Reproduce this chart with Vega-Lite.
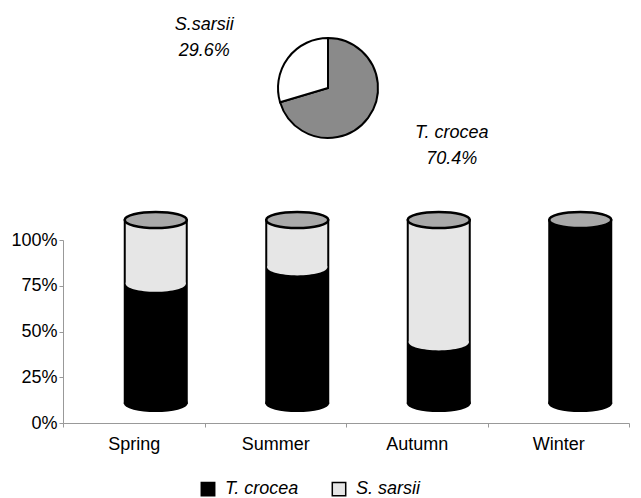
{
  "$schema": "https://vega.github.io/schema/vega-lite/v6.json",
  "background": "white",
  "padding": {"left": 10, "top": 5, "right": 5, "bottom": 5},
  "bounds": "flush",
  "spacing": 69,
  "config": {
    "view": {"stroke": null},
    "font": "Liberation Sans"
  },
  "resolve": {"scale": {"color": "independent"}},
  "vconcat": [
    {
      "width": 530,
      "height": 166,
      "data": {
        "values": [
          {"species": "T. crocea", "share": 70.4, "label": "T. crocea\n70.4%"},
          {"species": "S.sarsii", "share": 29.6, "label": "S.sarsii\n29.6%"}
        ]
      },
      "encoding": {
        "theta": {"field": "share", "type": "quantitative", "stack": true},
        "order": {"field": "species", "sort": "descending"}
      },
      "layer": [
        {
          "mark": {"type": "arc", "outerRadius": 50, "stroke": "black", "strokeWidth": 2},
          "encoding": {
            "color": {
              "field": "species",
              "type": "nominal",
              "scale": {"domain": ["T. crocea", "S.sarsii"], "range": ["#8a8a8a", "#ffffff"]},
              "legend": null
            }
          }
        },
        {
          "mark": {"type": "text", "fontSize": 18, "fontStyle": "italic", "lineBreak": "\n", "lineHeight": 26, "color": "black", "thetaOffset": -0.23, "dy": -9},
          "encoding": {
            "radius": {"value": 135},
            "text": {"field": "label"}
          }
        }
      ]
    },
    {
      "width": 566,
      "height": 183,
      "data": {
        "values": [
          {"season": "Spring", "species": "T. crocea", "pct": 65},
          {"season": "Spring", "species": "S. sarsii", "pct": 35},
          {"season": "Summer", "species": "T. crocea", "pct": 74},
          {"season": "Summer", "species": "S. sarsii", "pct": 26},
          {"season": "Autumn", "species": "T. crocea", "pct": 33},
          {"season": "Autumn", "species": "S. sarsii", "pct": 67},
          {"season": "Winter", "species": "T. crocea", "pct": 100},
          {"season": "Winter", "species": "S. sarsii", "pct": 0}
        ]
      },
      "encoding": {
        "x": {
          "field": "season",
          "type": "nominal",
          "sort": ["Spring", "Summer", "Autumn", "Winter"],
          "scale": {"paddingInner": 0, "paddingOuter": 0},
          "axis": {
            "title": null,
            "labelAngle": 0,
            "labelFontSize": 18,
            "labelColor": "black",
            "labelPadding": 8,
            "domainColor": "#999999",
            "tickColor": "#999999",
            "tickSize": 4,
            "tickBand": "extent"
          }
        }
      },
      "layer": [
        {
          "mark": {"type": "bar", "size": 62, "xOffset": 22, "yOffset": -20, "y2Offset": -20, "strokeWidth": 0},
          "encoding": {
            "y": {
              "field": "pct",
              "type": "quantitative",
              "stack": "zero",
              "scale": {"domain": [0, 100], "nice": false},
              "axis": {
                "values": [0, 25, 50, 75, 100],
                "labelExpr": "datum.value + '%'",
                "title": null,
                "grid": false,
                "domainColor": "#999999",
                "tickColor": "#999999",
                "tickSize": 4,
                "labelFontSize": 18,
                "labelColor": "black",
                "labelPadding": 2
              }
            },
            "color": {
              "field": "species",
              "type": "nominal",
              "scale": {"domain": ["T. crocea", "S. sarsii"], "range": ["#000000", "#e6e6e6"]},
              "legend": {
                "orient": "none",
                "legendX": 136,
                "legendY": 240,
                "direction": "horizontal",
                "title": null,
                "symbolType": "square",
                "symbolSize": 180,
                "symbolStrokeColor": "black",
                "symbolStrokeWidth": 1.5,
                "labelFontSize": 18,
                "labelFontStyle": "italic",
                "labelColor": "black",
                "labelOffset": 8,
                "columnPadding": 30
              }
            },
            "order": {"field": "species", "sort": "descending"}
          }
        },
        {
          "mark": {"type": "bar", "size": 62, "xOffset": 22, "yOffset": -20, "y2Offset": -20, "filled": false, "stroke": "black", "strokeWidth": 2},
          "encoding": {
            "y": {"aggregate": "sum", "field": "pct", "type": "quantitative", "stack": null},
            "y2": {"datum": 0}
          }
        },
        {
          "transform": [{"filter": "datum.species === 'T. crocea' && datum.pct < 100"}],
          "mark": {
            "type": "point",
            "shape": "M-1,-0.05L-1,0C-1,0.1436,-0.5523,0.26,0,0.26C0.5523,0.26,1,0.1436,1,0L1,-0.05Z",
            "size": 3600,
            "filled": true,
            "fill": "#e6e6e6",
            "strokeWidth": 0,
            "opacity": 1,
            "xOffset": 22,
            "yOffset": -20
          },
          "encoding": {
            "y": {"field": "pct", "type": "quantitative"}
          }
        },
        {
          "transform": [{"filter": "datum.species === 'T. crocea'"}],
          "mark": {
            "type": "point",
            "shape": "M-1,0C-1,0.1436,-0.5523,0.26,0,0.26C0.5523,0.26,1,0.1436,1,0C1,-0.1436,0.5523,-0.26,0,-0.26C-0.5523,-0.26,-1,-0.1436,-1,0Z",
            "size": 3844,
            "filled": true,
            "fill": "#000000",
            "stroke": "#000000",
            "strokeWidth": 2,
            "opacity": 1,
            "xOffset": 22,
            "yOffset": -20
          },
          "encoding": {
            "y": {"datum": 0, "type": "quantitative"}
          }
        },
        {
          "transform": [{"filter": "datum.species === 'T. crocea'"}],
          "mark": {
            "type": "point",
            "shape": "M-1,0C-1,0.1436,-0.5523,0.26,0,0.26C0.5523,0.26,1,0.1436,1,0C1,-0.1436,0.5523,-0.26,0,-0.26C-0.5523,-0.26,-1,-0.1436,-1,0Z",
            "size": 3844,
            "filled": true,
            "fill": "#a9a9a9",
            "stroke": "#000000",
            "strokeWidth": 2.5,
            "opacity": 1,
            "xOffset": 22,
            "yOffset": -20
          },
          "encoding": {
            "y": {"datum": 100, "type": "quantitative"}
          }
        }
      ]
    }
  ]
}
